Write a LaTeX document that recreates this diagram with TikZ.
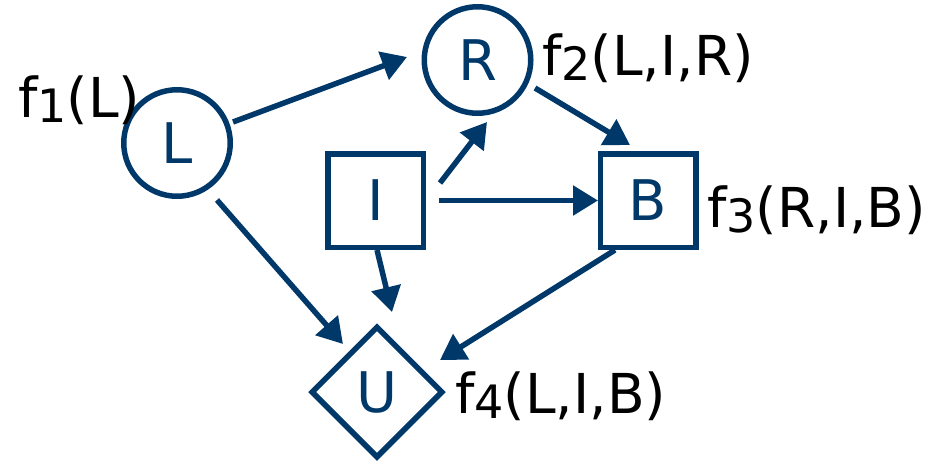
\documentclass[tikz,border=0pt]{standalone}
\usepackage{fontspec}
\setmainfont{DejaVu Sans}
\usetikzlibrary{arrows.meta,shapes.geometric,calc}
\definecolor{nblue}{RGB}{0,56,106}
\newcommand{\sbs}[1]{\raisebox{-5pt}{\fontsize{46}{46}\selectfont #1}}
\begin{document}
\begin{tikzpicture}[x=1pt,y=-1pt,
  shp/.style={draw=nblue,line width=5.5pt,text=nblue,font=\fontsize{56}{56}\selectfont,inner sep=0pt},
  circ/.style={shp,circle,minimum size=106.5pt},
  sq/.style={shp,rectangle,minimum width=95.5pt,minimum height=93.5pt},
  dia/.style={shp,diamond,minimum width=132pt,minimum height=132pt},
  arr/.style={draw=nblue,line width=5.5pt,-{Triangle[length=25pt,width=29pt]}},
  lbl/.style={anchor=base west,font=\fontsize{55}{55}\selectfont,inner sep=0pt,text=black}]
\useasboundingbox (0,0) rectangle (941,466);
\node[circ] (L) at (177,143) {L};
\node[circ] (R) at (477.5,60) {R};
\node[sq] (I) at (375.5,200.5) {I};
\node[sq] (B) at (648,200.5) {B};
\node[dia] (U) at (377,392) {U};
\node[lbl] (fL) at (18,117) {f\sbs{1}(L)};
\node[lbl] (fR) at (542,75) {f\sbs{2}(L,I,R)};
\node[lbl] (fB) at (707,227) {f\sbs{3}(R,I,B)};
\node[lbl] (fU) at (455,413) {f\sbs{4}(L,I,B)};
\draw[arr] ($(L.center)+(56,-21)$) -- ($(R.center)+(-70.5,-3)$);
\draw[arr] ($(I.center)+(64.5,-17.5)$) -- ($(R.center)+(9.5,62)$);
\draw[arr] ($(R.center)+(57.5,28)$) -- ($(B.center)+(-18,-55.5)$);
\draw[arr] ($(I.center)+(63.5,0)$) -- ($(B.center)+(-50,0)$);
\draw[arr] ($(L.center)+(40,57)$) -- ($(U.center)+(-34,-48)$);
\draw[arr] ($(I.center)+(1.5,49.5)$) -- ($(U.center)+(15,-80)$);
\draw[arr] ($(B.center)+(-33,49.5)$) -- ($(U.center)+(63,-32)$);
\end{tikzpicture}
\end{document}
